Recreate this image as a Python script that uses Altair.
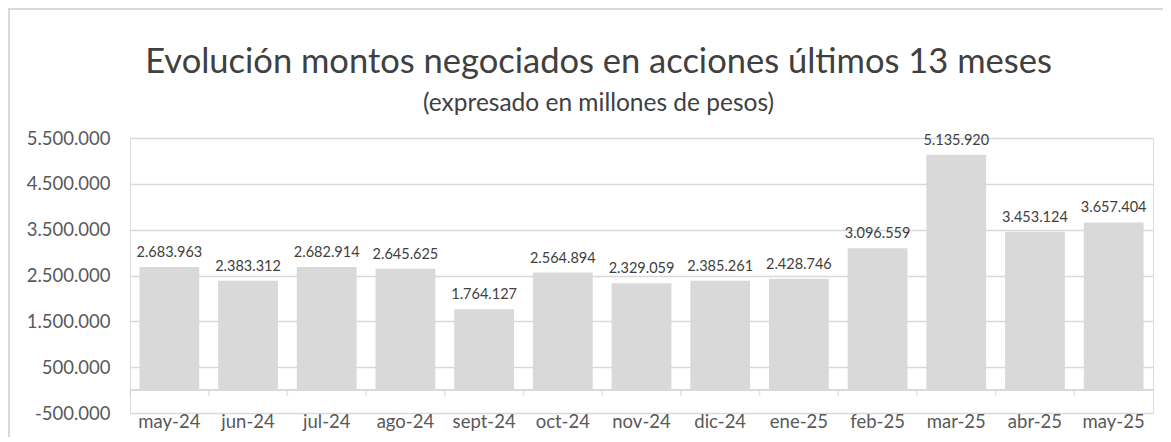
import altair as alt
import pandas as pd

months = ["may-24", "jun-24", "jul-24", "ago-24", "sept-24", "oct-24", "nov-24",
          "dic-24", "ene-25", "feb-25", "mar-25", "abr-25", "may-25"]
values = [2683963, 2383312, 2682914, 2645625, 1764127, 2564894, 2329059,
          2385261, 2428746, 3096559, 5135920, 3453124, 3657404]
y_ticks = [-500000, 500000, 1500000, 2500000, 3500000, 4500000, 5500000]

df = pd.DataFrame({
    "mes": months,
    "monto": values,
    "etiqueta": [f"{v:,}".replace(",", ".") for v in values],
})

FONT = "Lato"
GRID = "#d9d9d9"
TXT = "#595959"

W, H = 1023, 275
PAD_IN, PAD_OUT = 0.24, 0.12
STEP = W / len(months)
y_scale = alt.Scale(domain=[-500000, 5500000], nice=False, zero=False)
x_scale = alt.Scale(paddingInner=PAD_IN, paddingOuter=PAD_OUT)

base = alt.Chart(df)

bars = base.mark_bar(color="#d9d9d9").encode(
    x=alt.X("mes:N", sort=months, scale=x_scale, title=None, axis=None),
    y=alt.Y("monto:Q", scale=y_scale, title=None,
            axis=alt.Axis(values=y_ticks, format=",d",
                          labelExpr="replace(replace(datum.label, regexp(',', 'g'), '.'), '\u2212', '-')",
                          domain=False, ticks=False, grid=True, gridColor=GRID,
                          gridWidth=1.5, labelPadding=20, labelFontSize=18.5,
                          labelColor=TXT, labelFont=FONT)),
)

# category axis line crossing at zero, with tick marks between categories
zero_line = base.mark_rule(color=GRID, strokeWidth=1.5).encode(y=alt.datum(0))
cat_ticks = base.mark_tick(orient="vertical", size=6, thickness=1.5, color=GRID,
                           yOffset=3, xOffset=-(PAD_IN / 2) * STEP).encode(
    x=alt.X("mes:N", sort=months, scale=x_scale, bandPosition=0),
    y=alt.datum(0),
)

labels = base.mark_text(baseline="bottom", dy=-7, fontSize=14.5, color="#404040",
                        font=FONT).encode(
    x=alt.X("mes:N", sort=months, scale=x_scale),
    y=alt.Y("monto:Q", scale=y_scale),
    text="etiqueta:N",
)

cat_labels = base.mark_text(baseline="top", dy=0, fontSize=18.5, color=TXT,
                            font=FONT).encode(
    x=alt.X("mes:N", sort=months, scale=x_scale),
    y=alt.datum(-500000),
    text="mes:N",
)

frame_top = base.mark_rule(color=GRID, strokeWidth=2, clip=False).encode(
    x=alt.value(-121), x2=alt.value(1045), y=alt.value(-129))
frame_left = base.mark_rule(color=GRID, strokeWidth=2, clip=False).encode(
    x=alt.value(-121), y=alt.value(-130), y2=alt.value(300))

chart = alt.layer(bars, zero_line, cat_ticks, labels, cat_labels,
                  frame_top, frame_left).properties(
    width=W,
    height=H,
    padding={"left": 122, "top": 130, "right": 10, "bottom": 24},
    autosize=alt.AutoSizeParams(type="none"),
    title=alt.TitleParams(
        text="Evolución montos negociados en acciones últimos 13 meses",
        subtitle="(expresado en millones de pesos)",
        anchor="middle",
        dx=-43,
        offset=-109,
        font=FONT,
        fontSize=34.5,
        fontWeight="normal",
        color="#404040",
        subtitleFont=FONT,
        subtitleFontSize=24.5,
        subtitleColor="#404040",
        subtitlePadding=11,
    ),
).configure_view(stroke=GRID, strokeWidth=1.5).configure(background="white")

chart.save("out.html", embed_options={"renderer": "svg", "actions": False})
